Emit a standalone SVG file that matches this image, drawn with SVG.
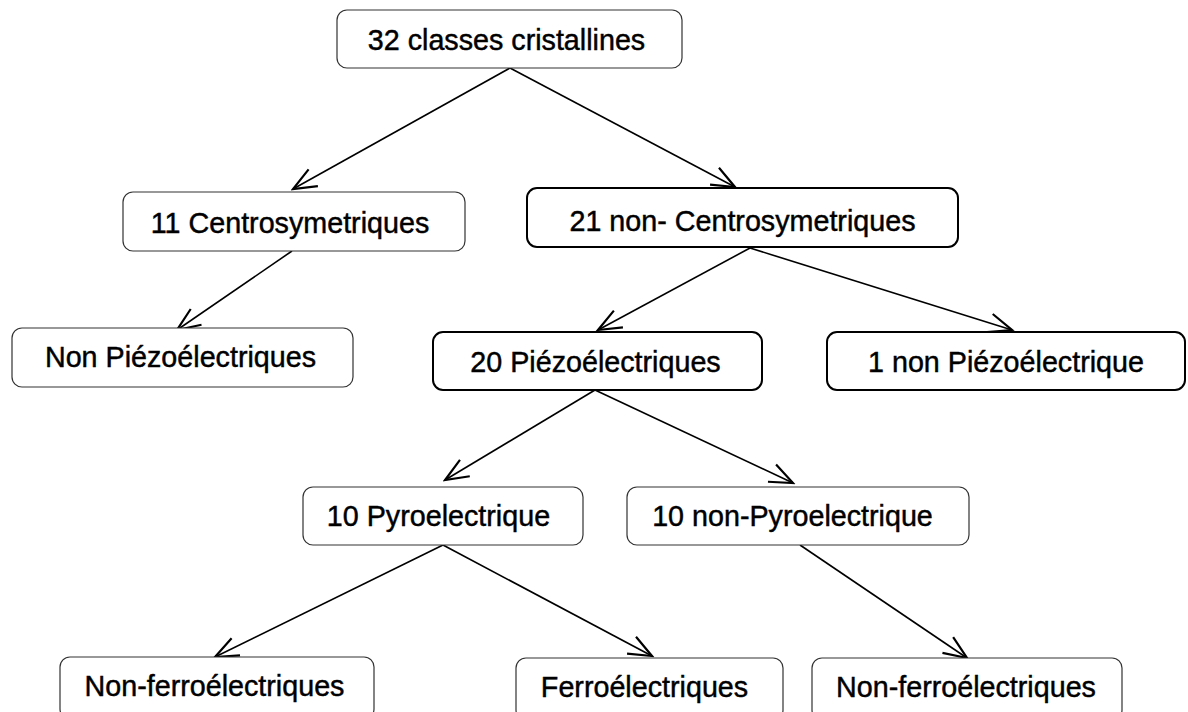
<svg xmlns="http://www.w3.org/2000/svg" width="1188" height="712" viewBox="0 0 1188 712">
<style>
.box{fill:#fff;stroke:#333;stroke-width:1.2}
.box.b{stroke:#000;stroke-width:2}
.t{font-family:"Liberation Sans",Arial,sans-serif;font-size:28.7px;fill:#000;stroke:#000;stroke-width:0.45;text-anchor:middle}
.c line{stroke:#000;stroke-width:1.6;marker-end:url(#ah)}
</style>
<defs>
<marker id="ah" markerUnits="userSpaceOnUse" markerWidth="30" markerHeight="30" viewBox="-20 -10 22 20" refX="0" refY="0" orient="auto">
<path d="M-17,-7 L0,0 L-17,7" fill="none" stroke="#000" stroke-width="1.6"/>
</marker>
</defs>
<rect width="1188" height="712" fill="#fff"/>
<g class="c" id="connectors">
<line x1="510" y1="68" x2="293" y2="189"/>
<line x1="510" y1="68" x2="735" y2="187"/>
<line x1="292" y1="251" x2="177" y2="330"/>
<line x1="750" y1="248" x2="598" y2="330"/>
<line x1="750" y1="248" x2="1012" y2="330"/>
<line x1="595" y1="390" x2="445" y2="480"/>
<line x1="595" y1="390" x2="793" y2="483"/>
<line x1="443" y1="545" x2="215" y2="657"/>
<line x1="443" y1="545" x2="652" y2="656"/>
<line x1="800" y1="545" x2="967" y2="658"/>
</g>
<g id="n1"><rect class="box" x="337" y="10" width="345" height="58" rx="10"/><text class="t" x="506.5" y="50">32 classes cristallines</text></g>
<g id="n2"><rect class="box" x="123" y="192" width="342" height="59" rx="10"/><text class="t" x="290" y="233">11 Centrosymetriques</text></g>
<g id="n3"><rect class="box b" x="527" y="188" width="431" height="59" rx="10"/><text class="t" x="742.5" y="231">21 non- Centrosymetriques</text></g>
<g id="n4"><rect class="box" x="12" y="328" width="341" height="59" rx="10"/><text class="t" x="180.5" y="367">Non Piézoélectriques</text></g>
<g id="n5"><rect class="box b" x="433" y="332" width="329" height="58" rx="10"/><text class="t" x="595.5" y="372">20 Piézoélectriques</text></g>
<g id="n6"><rect class="box b" x="827" y="332" width="358" height="58" rx="10"/><text class="t" x="1006" y="372">1 non Piézoélectrique</text></g>
<g id="n7"><rect class="box" x="303" y="487" width="280" height="58" rx="10"/><text class="t" x="438.5" y="526">10 Pyroelectrique</text></g>
<g id="n8"><rect class="box" x="627" y="487" width="342" height="58" rx="10"/><text class="t" x="792.5" y="526">10 non-Pyroelectrique</text></g>
<g id="n9"><rect class="box" x="60" y="657" width="314" height="62" rx="10"/><text class="t" x="214.5" y="696">Non-ferroélectriques</text></g>
<g id="n10"><rect class="box" x="516" y="658" width="267" height="62" rx="10"/><text class="t" x="644.5" y="697">Ferroélectriques</text></g>
<g id="n11"><rect class="box" x="812" y="658" width="310" height="62" rx="10"/><text class="t" x="966" y="697">Non-ferroélectriques</text></g>
</svg>
